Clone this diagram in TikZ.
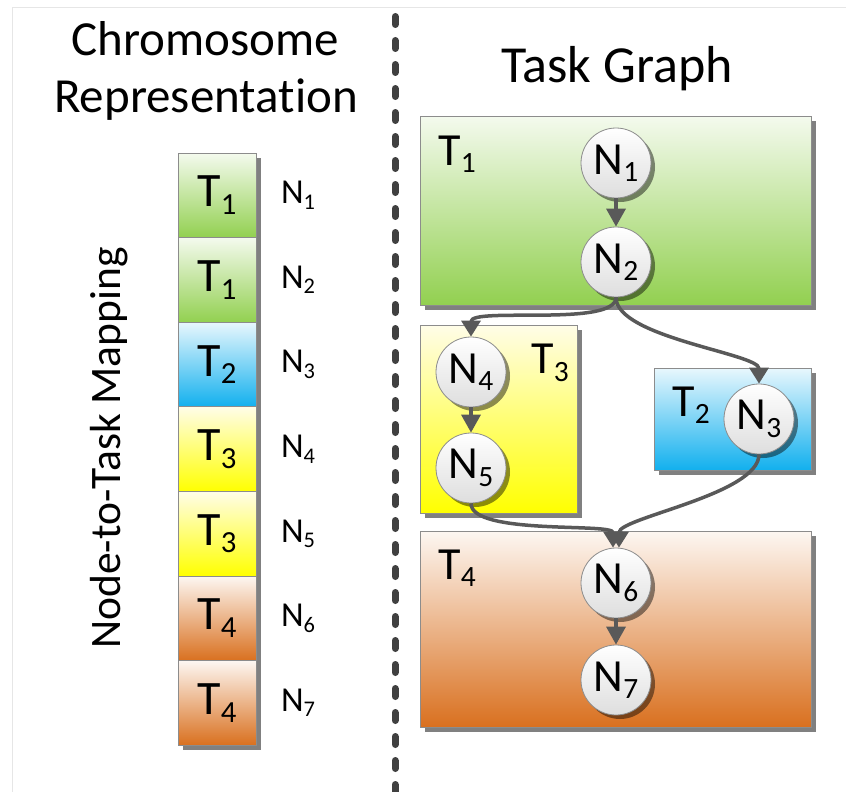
\documentclass[tikz,border=0pt]{standalone}
\usepackage{fontspec}
\setmainfont{Carlito}[Ligatures=NoCommon]
\usetikzlibrary{arrows.meta,shadows}
\definecolor{arrowgray}{HTML}{595959}
\definecolor{dashgray}{HTML}{404040}
\definecolor{framegray}{HTML}{E6E6E6}
\definecolor{boxborder}{HTML}{8C8C8C}
\definecolor{shadowgray}{HTML}{808080}
\definecolor{gtop}{HTML}{F4FAEE}\definecolor{gbot}{HTML}{92D050}
\definecolor{btop}{HTML}{E8F7FD}\definecolor{bbot}{HTML}{12B0EE}
\definecolor{ytop}{HTML}{FFFDE8}\definecolor{ybot}{HTML}{FFFF00}
\definecolor{otop}{HTML}{FDF7F2}\definecolor{obot}{HTML}{D9701F}
\newcommand\sbs[1]{\raisebox{-0.16em}{\scalebox{0.64}{#1}}}
\begin{document}
\begin{tikzpicture}[x=1pt,y=-1pt,
  box/.style={draw=boxborder, line width=1pt, inner sep=0pt, outer sep=0pt,
    drop shadow={shadow xshift=5pt,shadow yshift=-5pt,fill=shadowgray,opacity=1}},
  green/.style={top color=gtop, bottom color=gbot},
  blue/.style={top color=btop, bottom color=bbot},
  yellow/.style={top color=ytop, bottom color=ybot},
  orange/.style={top color=otop, bottom color=obot},
  chrom/.style={box, minimum width=78pt, minimum height=84.6pt, anchor=north west,
    font=\fontsize{48}{48}\selectfont},
  nlab/.style={font=\fontsize{35}{35}\selectfont},
  tlab/.style={font=\fontsize{46}{46}\selectfont},
  circ/.style={circle, draw=boxborder, line width=0.8pt, minimum size=70pt, inner sep=0pt,
    top color=white, bottom color=black!13,
    drop shadow={shadow xshift=4pt,shadow yshift=-4pt,fill=black,opacity=.45},
    font=\fontsize{46}{46}\selectfont},
  arr/.style={draw=arrowgray, line width=3.5pt, -{Triangle[length=16pt,width=19pt]}},
  sarr/.style={draw=arrowgray, line width=3.5pt, -{Triangle[length=18pt,width=19pt]}},
  title/.style={font=\fontsize{49}{49}\selectfont, anchor=base}
]
\useasboundingbox (0,0) rectangle (846,792);
% frame
\coordinate (fbl) at (12,792);
\coordinate (ftl) at (12,8);
\coordinate (ftr) at (846,8);
\draw[framegray, line width=1pt] (fbl) -- (ftl) -- (ftr);
% divider
\coordinate (dtop) at (395,16.5);
\coordinate (dbot) at (395,800);
\draw[dashgray, line width=7pt, line cap=round, dash pattern=on 8pt off 16pt] (dtop) -- (dbot);
% titles
\node[title] (t1a) at (205,56) {Chromosome};
\node[title] (t1b) at (206,112) {Representation};
\node[title, font=\fontsize{52}{52}\selectfont] (t2) at (617,82) {Task Graph};
\node[rotate=90, font=\fontsize{43.5}{43.5}\selectfont] (map) at (109,448) {Node-to-Task Mapping};
% chromosome column
\node[chrom, green]  (c1) at (178,153.0) {T\sbs{1}};
\node[chrom, green]  (c2) at (178,237.6) {T\sbs{1}};
\node[chrom, blue]   (c3) at (178,322.2) {T\sbs{2}};
\node[chrom, yellow] (c4) at (178,406.8) {T\sbs{3}};
\node[chrom, yellow] (c5) at (178,491.4) {T\sbs{3}};
\node[chrom, orange] (c6) at (178,576.0) {T\sbs{4}};
\node[chrom, orange] (c7) at (178,660.6) {T\sbs{4}};
\node[nlab] (l1) at (298,195.3) {N\sbs{1}};
\node[nlab] (l2) at (298,279.9) {N\sbs{2}};
\node[nlab] (l3) at (298,364.5) {N\sbs{3}};
\node[nlab] (l4) at (298,449.1) {N\sbs{4}};
\node[nlab] (l5) at (298,533.7) {N\sbs{5}};
\node[nlab] (l6) at (298,618.3) {N\sbs{6}};
\node[nlab] (l7) at (298,702.9) {N\sbs{7}};
% task boxes
\node[box, green,  anchor=north west, minimum width=391pt, minimum height=189pt] (T1) at (420,116) {};
\node[box, yellow, anchor=north west, minimum width=157pt, minimum height=188pt] (T3) at (420,325) {};
\node[box, blue,   anchor=north west, minimum width=157pt, minimum height=102pt] (T2) at (654,368) {};
\node[box, orange, anchor=north west, minimum width=391pt, minimum height=196pt] (T4) at (420,531) {};
\node[tlab] (T1l) at (457,154) {T\sbs{1}};
\node[tlab] (T3l) at (550,363) {T\sbs{3}};
\node[tlab] (T2l) at (691,405) {T\sbs{2}};
\node[tlab] (T4l) at (457,568) {T\sbs{4}};
% graph nodes
\node[circ] (n1) at (616,163) {N\sbs{1}};
\node[circ] (n2) at (616,262) {N\sbs{2}};
\node[circ] (n3) at (759,419) {N\sbs{3}};
\node[circ] (n4) at (471,372) {N\sbs{4}};
\node[circ] (n5) at (471,468) {N\sbs{5}};
\node[circ] (n6) at (616,583) {N\sbs{6}};
\node[circ] (n7) at (616,680) {N\sbs{7}};
% edges
\draw[sarr] (n1) -- (n2);
\draw[sarr] (n4) -- (n5);
\draw[sarr] (n6) -- (n7);
\draw[arr] (n2.south) .. controls +(0,30) and +(0,-30) .. (n4.north);
\draw[arr] (n2.south) .. controls +(0,40) and +(0,-30) .. (n3.north);
\draw[arr] (n5.south) .. controls +(0,32) and +(0,-25) .. ([xshift=-3pt]n6.north);
\draw[arr] (n3.south) .. controls +(0,40) and +(0,-30) .. ([xshift=3pt]n6.north);
\end{tikzpicture}
\end{document}
